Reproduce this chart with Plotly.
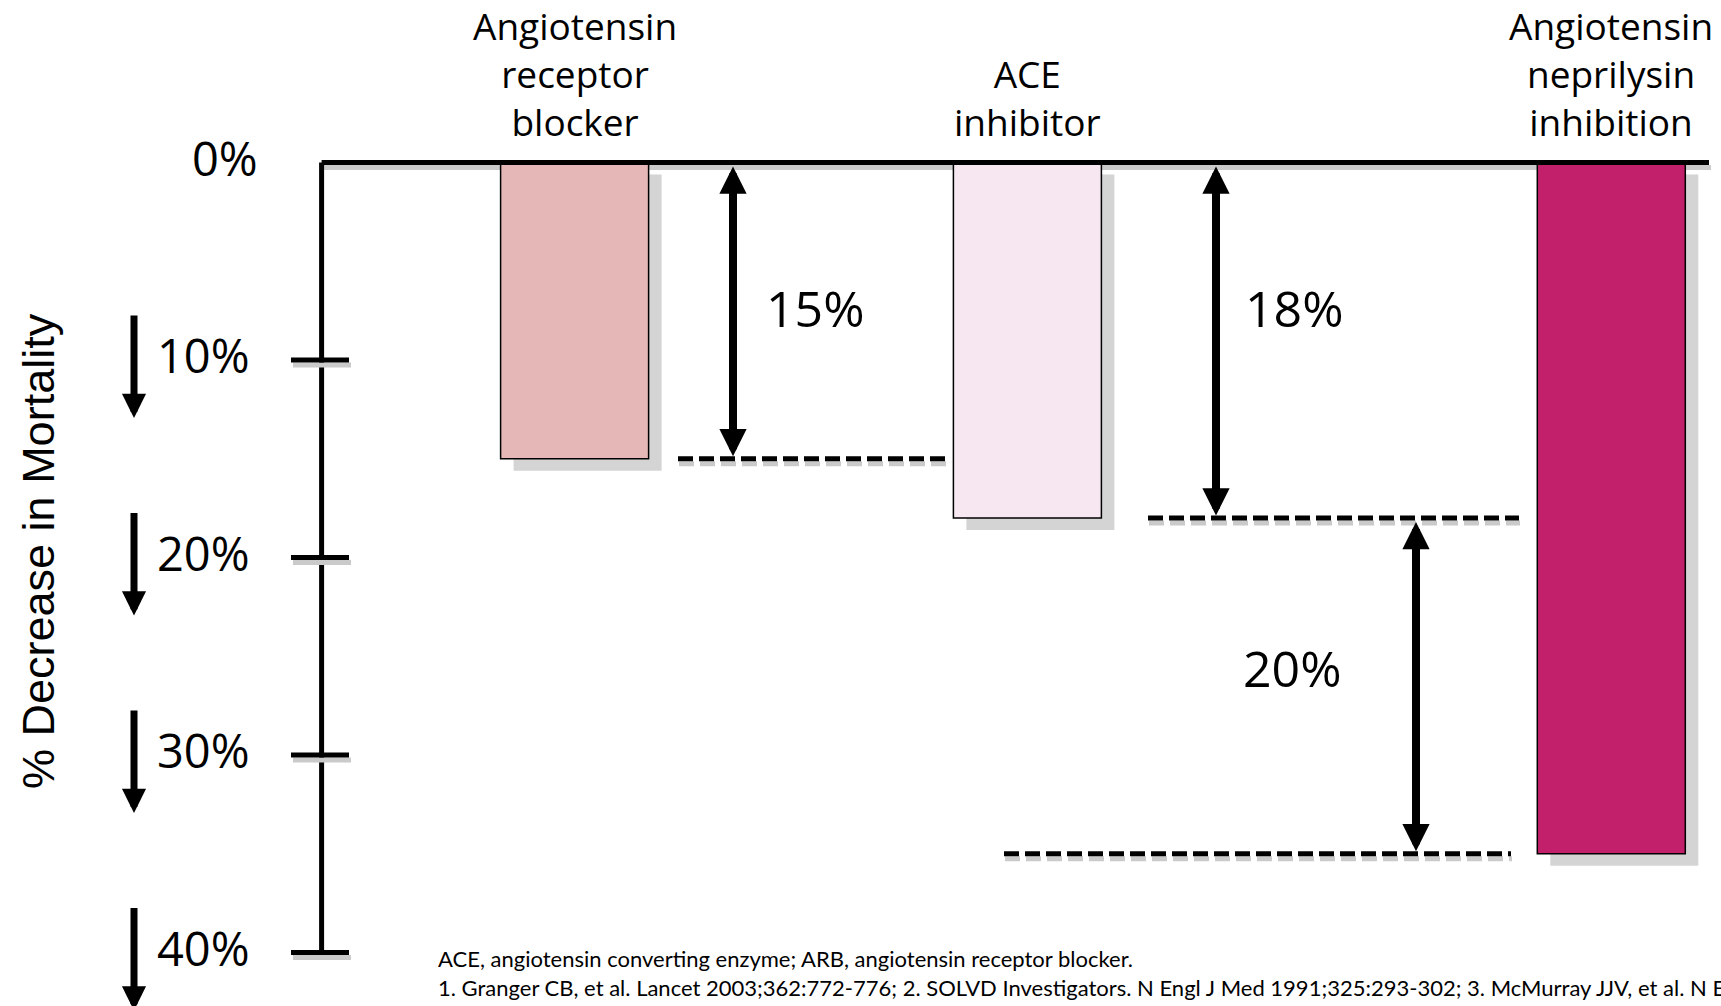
import plotly.graph_objects as go

# ---- data -------------------------------------------------------------
categories = [
    "Angiotensin<br>receptor<br>blocker",
    "ACE<br>inhibitor",
    "Angiotensin<br>neprilysin<br>inhibition",
]
mortality_decrease = [15, 18, 35]          # % decrease in mortality per drug class
bar_colors = ["#E5B8B7", "#F6E7F1", "#C2206A"]
step_labels = ["15%", "18%", "20%"]        # reduction spanned by each bracket arrow
tick_values = [0, 10, 20, 30, 40]
tick_labels = ["0%", "10%", "20%", "30%", "40%"]
axis_title = "% Decrease in Mortality"
footnotes = [
    "ACE, angiotensin converting enzyme; ARB, angiotensin receptor blocker.",
    "1. Granger CB, et al. Lancet 2003;362:772-776; 2. SOLVD Investigators. "
    "N Engl J Med 1991;325:293-302; 3. McMurray JJV, et al. N Engl J Med 2014;371:993-1004.",
]

# ---- layout geometry (pixel frame of the page) -----------------------
W, H = 1721, 1006
ZERO_PX = 162.5          # page row of the 0% line
PX_PER_PCT = 19.75       # vertical pixels per percentage point


def v(px):
    """page row -> value on the percentage axis"""
    return (px - ZERO_PX) / PX_PER_PCT


def dv(px):
    """pixel offset -> value offset"""
    return px / PX_PER_PCT


AXIS_X = 321.6
LINE_END_X = 1709
TICK_X = (291, 349)
bar_centers = [574.6, 1027.4, 1611.3]
BAR_W = 148
SHADOW_DX, SHADOW_DY = 13, 12
SHADOW = "#D4D4D4"
LINE_SHADOW = "#CACACA"

# bracket arrows: (from value, to value, x position)
brackets = [
    (0, mortality_decrease[0], 733),
    (0, mortality_decrease[1], 1216),
    (mortality_decrease[1], mortality_decrease[2], 1416),
]
# dashed guide lines at each bracket end
guides = [
    (mortality_decrease[0], 678, 946),
    (mortality_decrease[1], 1148, 1519),
    (mortality_decrease[2], 1004, 1511),
]
step_label_pos = [(764, v(308)), (1243, v(308)), (1241, v(668))]

NARROW = "Open Sans, Liberation Sans, sans-serif"

fig = go.Figure()


def seg_trace(xs, ys, color, width, dash=None):
    return go.Scatter(x=xs, y=ys, mode="lines", hoverinfo="skip",
                      line=dict(color=color, width=width, dash=dash))


# bar drop shadows
fig.add_trace(go.Bar(
    x=[c + SHADOW_DX for c in bar_centers], y=mortality_decrease, base=dv(SHADOW_DY),
    width=BAR_W, marker=dict(color=SHADOW, line=dict(width=0)), hoverinfo="skip",
))
# bars
fig.add_trace(go.Bar(
    x=bar_centers, y=mortality_decrease, base=0, width=BAR_W,
    marker=dict(color=bar_colors, line=dict(color="#000000", width=1.5)),
    hovertext=categories,
))

# zero line
fig.add_trace(seg_trace([AXIS_X, LINE_END_X], [0, 0], "#000000", 5))

# vertical axis
fig.add_trace(seg_trace([AXIS_X, AXIS_X], [0, tick_values[-1]], "#000000", 5))

# tick marks crossing the axis
tx, ty, sx, sy = [], [], [], []
for t in tick_values[1:]:
    tx += [TICK_X[0], TICK_X[1], None]
    ty += [t, t, None]
    sx += [TICK_X[0] + 2, TICK_X[1] + 2, None]
    sy += [t + dv(5), t + dv(5), None]
fig.add_trace(seg_trace(sx, sy, LINE_SHADOW, 5))
fig.add_trace(seg_trace(tx, ty, "#000000", 5))

# dashed guide lines
for val, x0, x1 in guides:
    fig.add_trace(seg_trace([x0 + 1, x1 + 1], [val + dv(5), val + dv(5)], LINE_SHADOW, 5, "15px,6px"))
    fig.add_trace(seg_trace([x0, x1], [val, val], "#000000", 5, "15px,6px"))

# shadow of the zero line, kept underneath the bars
shapes = [dict(
    type="line", xref="x", yref="y", layer="below",
    x0=AXIS_X + 2, x1=LINE_END_X + 2, y0=dv(5), y1=dv(5),
    line=dict(color=LINE_SHADOW, width=5),
)]

annotations = []

# tick labels with downward arrows
for t, lab in zip(tick_values, tick_labels):
    annotations.append(dict(
        x=260 if t == 0 else 252, y=t - dv(5), xref="x", yref="y",
        text=lab, showarrow=False, xanchor="right", yanchor="middle",
        font=dict(family=NARROW, size=47, color="#000000"),
    ))
    if t > 0:
        annotations.append(dict(
            x=134, y=t + dv(58), ax=134, ay=t - dv(46), xref="x", yref="y",
            axref="x", ayref="y", text="", showarrow=True,
            arrowhead=2, arrowsize=0.69, arrowwidth=7, arrowcolor="#000000",
        ))

# double-headed bracket arrows
for (a, b, x), lab, (lx, ly) in zip(brackets, step_labels, step_label_pos):
    annotations.append(dict(
        x=x, y=b - dv(2.5), ax=x, ay=a + dv(2.5), xref="x", yref="y",
        axref="x", ayref="y", text="", showarrow=True, arrowside="end+start",
        arrowhead=2, startarrowhead=2, arrowsize=0.68, startarrowsize=0.68,
        arrowwidth=8, arrowcolor="#000000",
    ))
    annotations.append(dict(
        x=lx, y=ly, xref="x", yref="y", text=lab, showarrow=False,
        xanchor="left", yanchor="middle",
        font=dict(family=NARROW, size=50, color="#000000"),
    ))

# category headings above the bars
for c, name in zip(bar_centers, categories):
    annotations.append(dict(
        x=c, y=v(148), xref="x", yref="y", text=name, showarrow=False,
        xanchor="center", yanchor="bottom", align="center", borderpad=0,
        font=dict(family=NARROW, size=37, color="#000000"),
    ))

# axis title
annotations.append(dict(
    x=38, y=v(551), xref="x", yref="y", text=axis_title, showarrow=False,
    textangle=-90, xanchor="center", yanchor="middle",
    font=dict(family="Liberation Sans, Arial, sans-serif", size=45, color="#000000"),
))

# footnotes
for i, note in enumerate(footnotes):
    annotations.append(dict(
        x=436, y=v(958 + 29 * i), xref="x", yref="y", text=note, showarrow=False,
        xanchor="left", yanchor="middle", align="left",
        font=dict(family="Lato, Carlito, sans-serif", size=22, color="#000000"),
    ))

fig.update_layout(
    width=W, height=H,
    margin=dict(l=0, r=0, t=0, b=0),
    paper_bgcolor="#FFFFFF", plot_bgcolor="#FFFFFF",
    showlegend=False, barmode="overlay",
    xaxis=dict(range=[0, W], visible=False, fixedrange=True),
    yaxis=dict(range=[v(H), v(0)], visible=False, fixedrange=True),
    shapes=shapes,
    annotations=annotations,
)

fig.write_html("out.html")
